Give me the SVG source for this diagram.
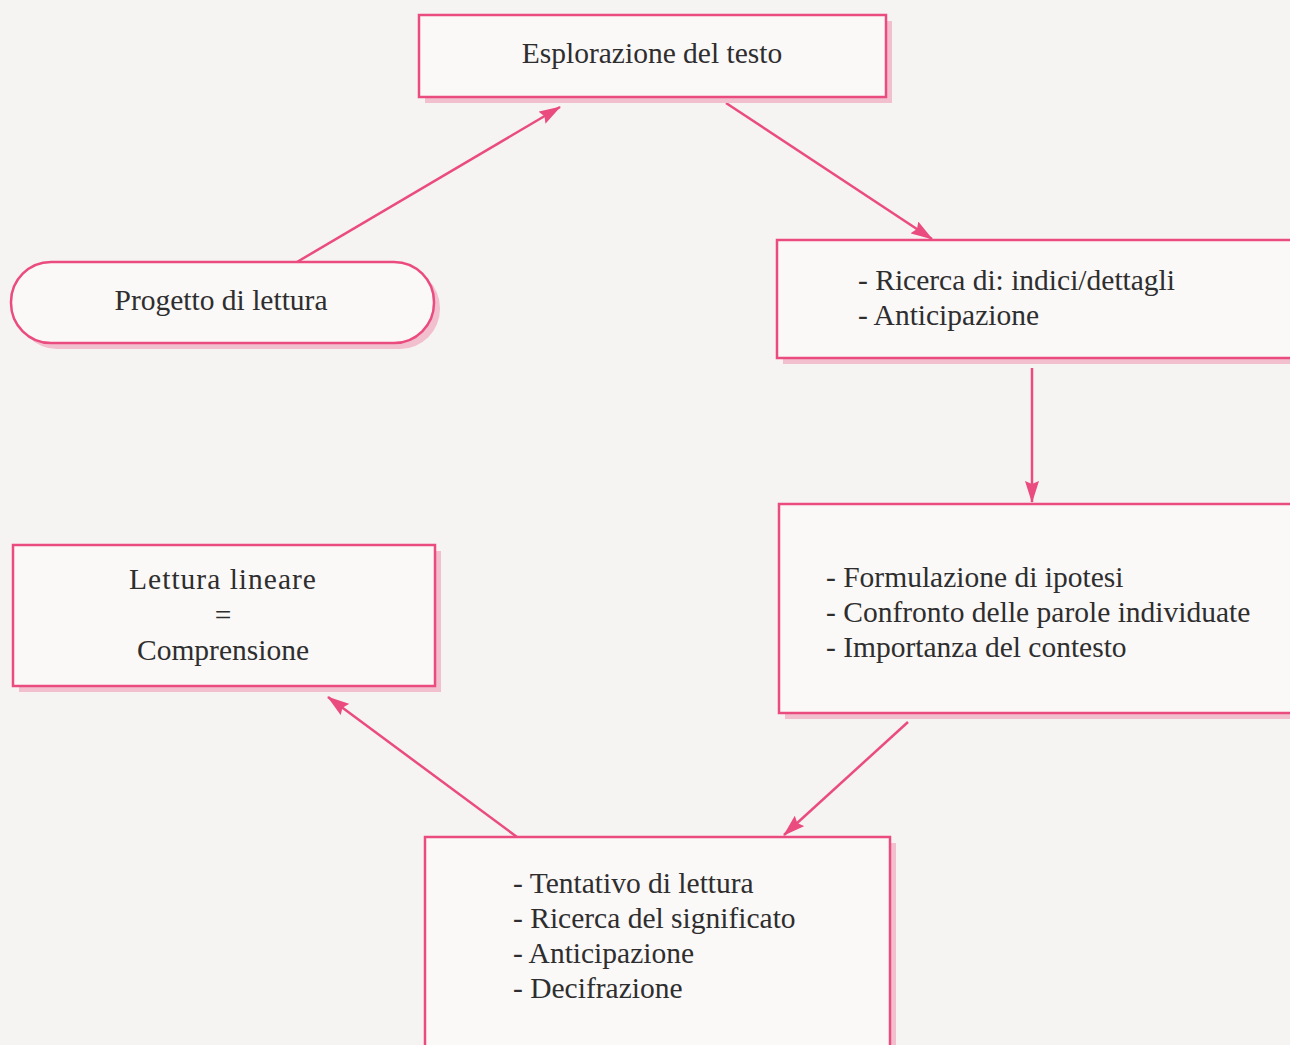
<svg xmlns="http://www.w3.org/2000/svg" width="1290" height="1045" viewBox="0 0 1290 1045">
<defs>
<style>
.box{fill:#fbf8f8;stroke:#ea4c7f;stroke-width:2.5}
.sh{fill:#f2bfcf}
.t{font-family:"Liberation Serif","Times New Roman",serif;font-size:29.5px;fill:#2e2e2e}
.c{stroke:#ea4c7f;stroke-width:2.5;fill:none;marker-end:url(#ah)}
</style>
<marker id="ah" viewBox="0 0 22 14" refX="21" refY="7" markerWidth="22" markerHeight="14" markerUnits="userSpaceOnUse" orient="auto">
<path d="M0,0 L22,7 L0,14 L3,7 Z" fill="#ea4c7f"/>
</marker>
</defs>
<rect width="1290" height="1045" fill="#f6f3f3"/>
<g id="connectors">
<line class="c" x1="297" y1="262" x2="560" y2="107"/>
<line class="c" x1="726" y1="103" x2="932" y2="239"/>
<line class="c" x1="1032" y1="368" x2="1032" y2="502"/>
<line class="c" x1="908" y1="722" x2="784" y2="835"/>
<line class="c" x1="517" y1="837" x2="328" y2="697"/>
</g>
<g id="esplorazione">
<rect class="sh" x="425" y="21" width="467" height="82"/>
<rect class="box" x="419" y="15" width="467" height="82"/>
<text class="t" x="652" y="63" text-anchor="middle">Esplorazione del testo</text>
</g>
<g id="progetto">
<rect class="sh" x="17" y="268" width="423" height="81" rx="40"/>
<rect class="box" x="11" y="262" width="423" height="81" rx="40"/>
<text class="t" x="221" y="310" text-anchor="middle">Progetto di lettura</text>
</g>
<g id="ricerca">
<rect class="sh" x="783" y="246" width="520" height="118"/>
<rect class="box" x="777" y="240" width="520" height="118"/>
<text class="t" x="858" y="290">- Ricerca di: indici/dettagli</text>
<text class="t" x="858" y="325">- Anticipazione</text>
</g>
<g id="formulazione">
<rect class="sh" x="785" y="510" width="520" height="209"/>
<rect class="box" x="779" y="504" width="520" height="209"/>
<text class="t" x="826" y="587">- Formulazione di ipotesi</text>
<text class="t" x="826" y="622">- Confronto delle parole individuate</text>
<text class="t" x="826" y="657">- Importanza del contesto</text>
</g>
<g id="lettura">
<rect class="sh" x="19" y="551" width="422" height="141"/>
<rect class="box" x="13" y="545" width="422" height="141"/>
<text class="t" x="223" y="589" text-anchor="middle" letter-spacing="1">Lettura lineare</text>
<text class="t" x="223" y="625" text-anchor="middle">=</text>
<text class="t" x="223" y="660" text-anchor="middle">Comprensione</text>
</g>
<g id="tentativo">
<rect class="sh" x="431" y="843" width="465" height="220"/>
<rect class="box" x="425" y="837" width="465" height="220"/>
<text class="t" x="513" y="893">- Tentativo di lettura</text>
<text class="t" x="513" y="928">- Ricerca del significato</text>
<text class="t" x="513" y="963">- Anticipazione</text>
<text class="t" x="513" y="998">- Decifrazione</text>
</g>
</svg>
